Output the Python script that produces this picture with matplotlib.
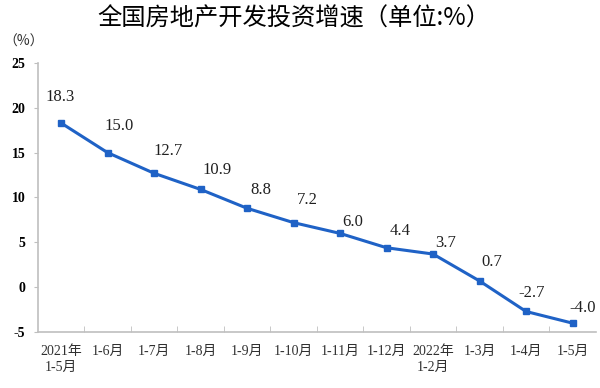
import matplotlib
matplotlib.use('Agg')
import matplotlib.pyplot as plt
import numpy as np

plt.rcParams['font.family'] = ['Liberation Serif', 'Noto Sans CJK SC']

# 全国房地产开发投资累计增速
periods = ['2021年\n1-5月', '1-6月', '1-7月', '1-8月', '1-9月', '1-10月',
           '1-11月', '1-12月', '2022年\n1-2月', '1-3月', '1-4月', '1-5月']
growth = [18.3, 15.0, 12.7, 10.9, 8.8, 7.2, 6.0, 4.4, 3.7, 0.7, -2.7, -4.0]
y_ticks = [-5, 0, 5, 10, 15, 20, 25]

# label placement relative to each marker (points)
label_offsets = [(-1, 19), (8, 19), (10, 16), (12, 14), (10, 13), (10, 16),
                 (9, 8), (10, 12), (9, 8), (9, 14), (4, 13), (7, 11)]

LINE_COLOR = '#1f62c6'
SPINE_COLOR = '#bfbfbf'

fig = plt.figure(figsize=(6, 3.88), dpi=100)
ax = fig.add_axes([0.063, 0.144, 0.93, 0.694])

x = np.arange(len(periods))
ax.plot(x, growth, color=LINE_COLOR, linewidth=2.2, marker='s', markersize=5)

for i, v in enumerate(growth):
    ax.annotate(f'{v:.1f}', (i, v), xytext=label_offsets[i], textcoords='offset points',
                ha='center', va='center', fontsize=12, color='#202020')

ax.set_xlim(-0.5, len(periods) - 0.5)
ax.set_ylim(-5, 25)
ax.set_yticks(y_ticks)
ax.set_yticklabels([str(t) for t in y_ticks], fontsize=10, fontweight='bold')
ax.set_xticks(x)
ax.set_xticklabels(periods, fontsize=10, color='#303030', linespacing=1.3)
ax.set_xticks(np.arange(0.5, len(periods) - 1, 1), minor=True)
ax.tick_params(axis='x', which='major', length=0, pad=9)
ax.tick_params(axis='x', which='minor', direction='in', length=4, color=SPINE_COLOR)
ax.tick_params(axis='y', length=3, color=SPINE_COLOR, pad=6)

for side in ('top', 'right'):
    ax.spines[side].set_visible(False)
for side in ('left', 'bottom'):
    ax.spines[side].set_color(SPINE_COLOR)
    ax.spines[side].set_linewidth(1.2)

fig.text(0.49, 0.953, '全国房地产开发投资增速（单位:%）', ha='center', va='center',
         fontsize=17.5, family=['Noto Sans CJK SC'])
fig.text(0.005, 0.893, '（%）', ha='left', va='center', fontsize=10,
         color='#303030', family=['Noto Sans CJK SC'])

fig.savefig('out.png', dpi=100)
